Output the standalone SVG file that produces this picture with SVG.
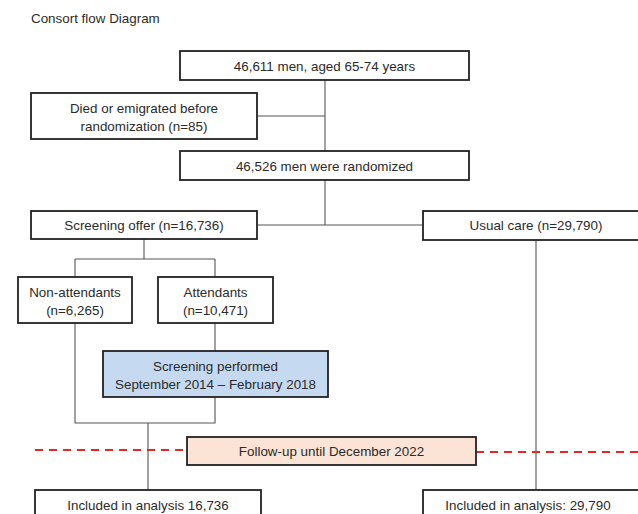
<svg xmlns="http://www.w3.org/2000/svg" width="638" height="514" viewBox="0 0 638 514">
<style>
text{font-family:"Liberation Sans",Arial,sans-serif;font-size:13.4px;fill:#2b2b2b;text-anchor:middle}
.box{fill:#fff;stroke:#222;stroke-width:1.8}
.blue{fill:#c5d9f1}
.peach{fill:#fbe4d5}
.ln{fill:none;stroke:#555;stroke-width:1.1}
.dash{fill:none;stroke:#e8262a;stroke-width:2;stroke-dasharray:8,6}
</style>
<rect width="638" height="514" fill="#fff"/>
<text x="31" y="23" style="text-anchor:start">Consort flow Diagram</text>
<g id="connectors">
<path class="ln" d="M325,80 V151 M257,116 H325 M325,180 V225 M257,225 H423 M144,239 V259 M75,259 H215 M75,259 V277 M215,259 V277 M75,323 V423 H215 V397 M215,323 V351 M148,423 V490 M536,240 V490"/>
<path class="dash" d="M35,450 H187 M476,452 H638"/>
</g>
<g id="n1"><rect class="box" x="180" y="51" width="289" height="29"/><text x="324.5" y="70.5">46,611 men, aged 65-74 years</text></g>
<g id="n2"><rect class="box" x="31" y="93" width="226" height="46"/><text x="144" y="112.5">Died or emigrated before</text><text x="144" y="130.5">randomization  (n=85)</text></g>
<g id="n3"><rect class="box" x="180" y="151" width="289" height="29"/><text x="324.5" y="170.5">46,526 men were randomized</text></g>
<g id="n4"><rect class="box" x="31" y="211" width="226" height="28"/><text x="144" y="230">Screening offer (n=16,736)</text></g>
<g id="n5"><rect class="box" x="423" y="211" width="225" height="29"/><text x="536" y="230">Usual care (n=29,790)</text></g>
<g id="n6"><rect class="box" x="18" y="277" width="114" height="46"/><text x="75" y="296.5">Non-attendants</text><text x="75" y="314.5">(n=6,265)</text></g>
<g id="n7"><rect class="box" x="158" y="277" width="115" height="46"/><text x="215.5" y="296.5">Attendants</text><text x="215.5" y="314.5">(n=10,471)</text></g>
<g id="n8"><rect class="box blue" x="103" y="351" width="225" height="46"/><text x="215.5" y="370.5">Screening performed</text><text x="215.5" y="388.5">September  2014 – February 2018</text></g>
<g id="n9"><rect class="box peach" x="187" y="437" width="289" height="28"/><text x="331.5" y="456">Follow-up until December 2022</text></g>
<g id="n10"><rect class="box" x="35" y="490" width="226" height="40"/><text x="148" y="509.5">Included in analysis 16,736</text></g>
<g id="n11"><rect class="box" x="423" y="490" width="225" height="40"/><text x="528" y="509.5">Included in analysis: 29,790</text></g>
</svg>
